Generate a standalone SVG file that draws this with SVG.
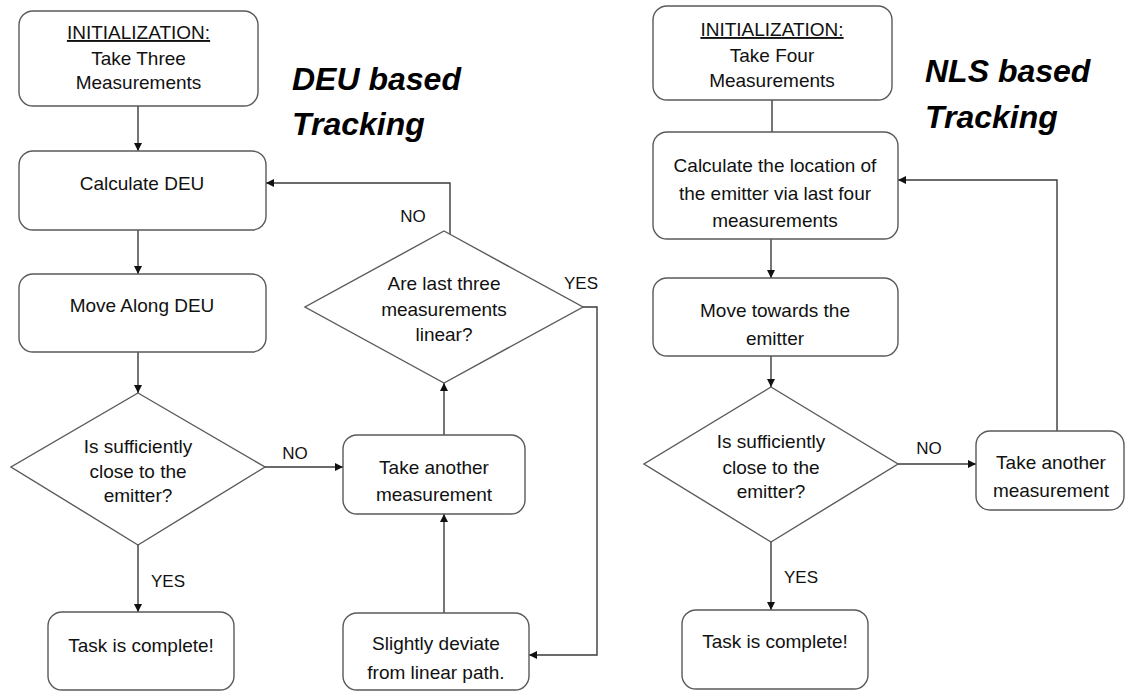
<svg xmlns="http://www.w3.org/2000/svg" width="1126" height="693" viewBox="0 0 1126 693">
<defs>
<style>
.box{fill:#fff;stroke:#5a5a5a;stroke-width:1.4}
.t{font-family:"Liberation Sans",Arial,sans-serif;font-size:19px;fill:#111;text-anchor:middle}
.lbl{font-family:"Liberation Sans",Arial,sans-serif;font-size:17px;fill:#111;text-anchor:middle}
.title{font-family:"Liberation Sans",Arial,sans-serif;font-size:32px;font-weight:bold;font-style:italic;fill:#000}
.c{fill:none;stroke:#3a3a3a;stroke-width:1.4}
.u{text-decoration:underline}
</style>
<marker id="ah" markerUnits="userSpaceOnUse" markerWidth="9" markerHeight="9" refX="8" refY="4" orient="auto">
<path d="M0,0 L8,4 L0,8 z" fill="#111"/>
</marker>
</defs>
<rect width="1126" height="693" fill="#fff"/>

<text class="title" x="292" y="90">DEU based</text>
<text class="title" x="292" y="135">Tracking</text>
<text class="title" x="925" y="82">NLS based</text>
<text class="title" x="925" y="128">Tracking</text>

<g id="connectors">
<line class="c" x1="138" y1="106" x2="138" y2="151" marker-end="url(#ah)"/>
<line class="c" x1="138" y1="230" x2="138" y2="274" marker-end="url(#ah)"/>
<line class="c" x1="138" y1="352" x2="138" y2="393" marker-end="url(#ah)"/>
<line class="c" x1="138" y1="545" x2="138" y2="612" marker-end="url(#ah)"/>
<line class="c" x1="265" y1="467" x2="343" y2="467" marker-end="url(#ah)"/>
<line class="c" x1="444" y1="435" x2="444" y2="383" marker-end="url(#ah)"/>
<line class="c" x1="444" y1="613" x2="444" y2="514" marker-end="url(#ah)"/>
<polyline class="c" points="450,234 450,183 266,183" marker-end="url(#ah)"/>
<polyline class="c" points="583,307 597,307 597,655 529,655" marker-end="url(#ah)"/>
<line class="c" x1="772" y1="100" x2="772" y2="132"/>
<line class="c" x1="771" y1="239" x2="771" y2="278" marker-end="url(#ah)"/>
<line class="c" x1="771" y1="356" x2="771" y2="387" marker-end="url(#ah)"/>
<line class="c" x1="771" y1="542" x2="771" y2="610" marker-end="url(#ah)"/>
<line class="c" x1="898" y1="464" x2="976" y2="464" marker-end="url(#ah)"/>
<polyline class="c" points="1057,431 1057,180 898,180" marker-end="url(#ah)"/>
<text class="lbl" x="413" y="222">NO</text>
<text class="lbl" x="581" y="289">YES</text>
<text class="lbl" x="295" y="459">NO</text>
<text class="lbl" x="168" y="587">YES</text>
<text class="lbl" x="929" y="454">NO</text>
<text class="lbl" x="801" y="583">YES</text>
</g>

<g id="l-init">
<rect class="box" x="19" y="11" width="239" height="95" rx="14"/>
<text class="t u" x="138.5" y="39">INITIALIZATION:</text>
<text class="t" x="138.5" y="65">Take Three</text>
<text class="t" x="138.5" y="89">Measurements</text>
</g>
<g id="l-calc">
<rect class="box" x="19" y="151" width="247" height="79" rx="14"/>
<text class="t" x="142" y="190">Calculate DEU</text>
</g>
<g id="l-move">
<rect class="box" x="19" y="274" width="247" height="78" rx="14"/>
<text class="t" x="142" y="312">Move Along DEU</text>
</g>
<g id="l-close">
<polygon class="box" points="138,393 265,467 138,545 11,467"/>
<text class="t" x="138" y="453">Is sufficiently</text>
<text class="t" x="138" y="478">close to the</text>
<text class="t" x="138" y="502">emitter?</text>
</g>
<g id="l-done">
<rect class="box" x="48" y="612" width="186" height="78" rx="14"/>
<text class="t" x="141" y="652">Task is complete!</text>
</g>
<g id="l-take">
<rect class="box" x="343" y="435" width="182" height="79" rx="14"/>
<text class="t" x="434" y="474">Take another</text>
<text class="t" x="434" y="501">measurement</text>
</g>
<g id="l-linear">
<polygon class="box" points="444,231 583,307 444,383 305,307"/>
<text class="t" x="444" y="290">Are last three</text>
<text class="t" x="444" y="316">measurements</text>
<text class="t" x="444" y="341">linear?</text>
</g>
<g id="l-deviate">
<rect class="box" x="343" y="613" width="186" height="77" rx="14"/>
<text class="t" x="436" y="650">Slightly deviate</text>
<text class="t" x="436" y="679">from linear path.</text>
</g>

<g id="r-init">
<rect class="box" x="653" y="6" width="239" height="94" rx="14"/>
<text class="t u" x="772" y="36">INITIALIZATION:</text>
<text class="t" x="772" y="62">Take Four</text>
<text class="t" x="772" y="87">Measurements</text>
</g>
<g id="r-calc">
<rect class="box" x="653" y="132" width="245" height="107" rx="14"/>
<text class="t" x="775" y="172">Calculate the location of</text>
<text class="t" x="775" y="200">the emitter via last four</text>
<text class="t" x="775" y="227">measurements</text>
</g>
<g id="r-move">
<rect class="box" x="653" y="278" width="245" height="78" rx="14"/>
<text class="t" x="775" y="317">Move towards the</text>
<text class="t" x="775" y="345">emitter</text>
</g>
<g id="r-close">
<polygon class="box" points="771,387 898,464 771,542 644,464"/>
<text class="t" x="771" y="448">Is sufficiently</text>
<text class="t" x="771" y="474">close to the</text>
<text class="t" x="771" y="498">emitter?</text>
</g>
<g id="r-done">
<rect class="box" x="682" y="610" width="186" height="79" rx="14"/>
<text class="t" x="775" y="648">Task is complete!</text>
</g>
<g id="r-take">
<rect class="box" x="976" y="431" width="148" height="79" rx="14"/>
<text class="t" x="1051" y="469">Take another</text>
<text class="t" x="1051" y="497">measurement</text>
</g>
</svg>
